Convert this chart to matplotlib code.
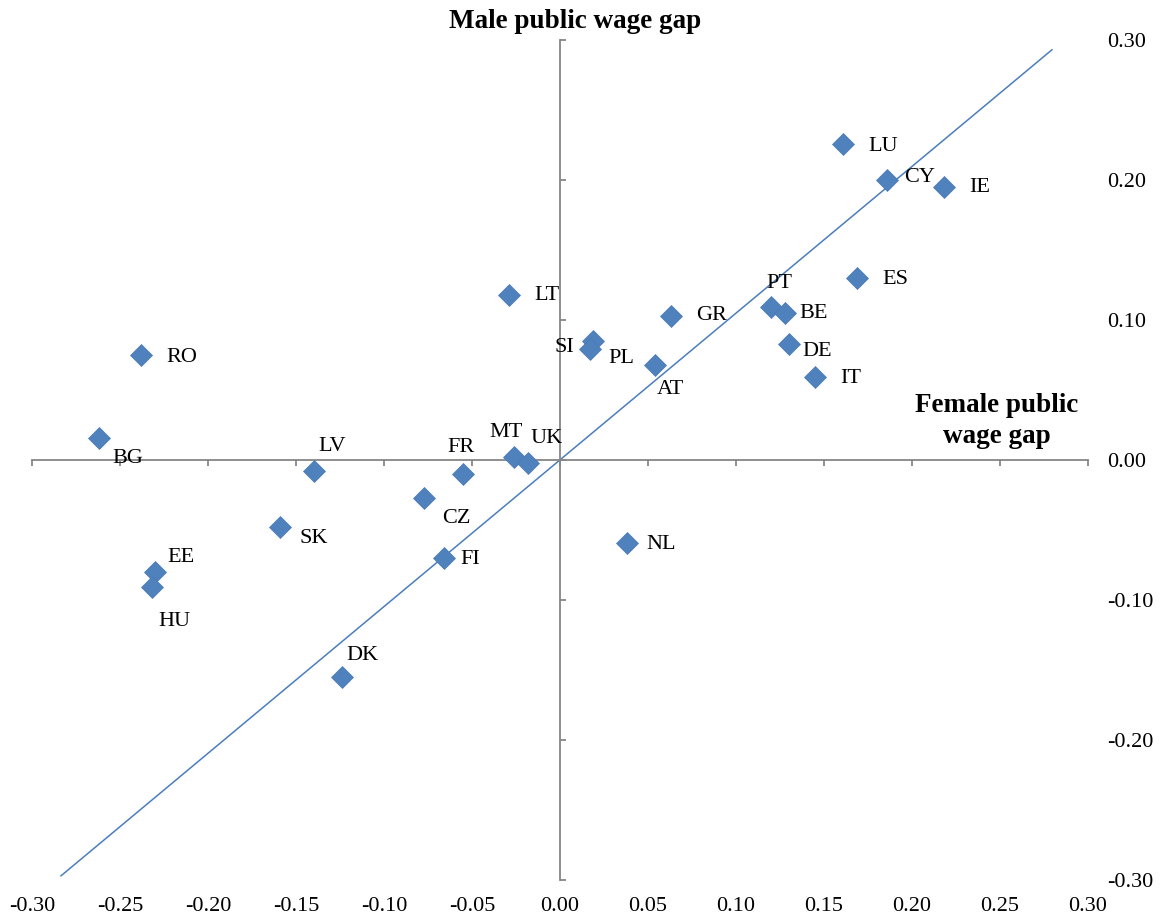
import matplotlib
matplotlib.use('Agg')
import matplotlib.pyplot as plt
from matplotlib.ticker import FormatStrFormatter

plt.rcParams['font.family'] = ['Liberation Serif', 'DejaVu Serif']
plt.rcParams['axes.unicode_minus'] = False

# country codes, female gap (x), male gap (y)
countries = ['LU', 'CY', 'IE', 'ES', 'PT', 'BE', 'DE', 'IT', 'GR', 'AT', 'SI', 'PL', 'LT',
             'RO', 'BG', 'LV', 'FR', 'MT', 'UK', 'CZ', 'SK', 'FI', 'NL', 'EE', 'HU', 'DK']
female_gap = [0.161, 0.186, 0.218, 0.169, 0.120, 0.128, 0.130, 0.145, 0.063, 0.054, 0.019, 0.017, -0.029,
              -0.238, -0.262, -0.140, -0.055, -0.026, -0.018, -0.077, -0.159, -0.066, 0.038, -0.230, -0.232, -0.124]
male_gap = [0.226, 0.200, 0.195, 0.130, 0.109, 0.105, 0.083, 0.059, 0.103, 0.068, 0.085, 0.079, 0.118,
            0.075, 0.016, -0.008, -0.010, 0.002, -0.002, -0.027, -0.048, -0.070, -0.059, -0.080, -0.091, -0.155]

# fitted line end points
line_x = [-0.2835, 0.2795]
line_y = [-0.297, 0.293]

xticks = [-0.30, -0.25, -0.20, -0.15, -0.10, -0.05, 0.00, 0.05, 0.10, 0.15, 0.20, 0.25, 0.30]
yticks = [-0.30, -0.20, -0.10, 0.00, 0.10, 0.20, 0.30]

# label offsets in pixels (dx right, dy down) relative to each point
label_offsets = [(40, 3), (32, -3), (36, 1), (38, 1), (8, -24), (28, 0), (28, 8), (36, 1), (41, 0),
                 (15, 25), (-29, 6), (31, 9), (38, 1), (41, 2), (29, 21), (19, -25), (-2, -27),
                 (-8, -25), (18, -24), (32, 21), (34, 11), (26, 2), (34, 2), (26, -15), (23, 34), (21, -21)]

fig = plt.figure(figsize=(11.6, 9.18), dpi=100)
ax = fig.add_axes([32/1160, 1-880/918, 1056/1160, 840/918])

axis_grey = '#868686'
blue = '#4F81BD'

ax.plot(line_x, line_y, color='#4A7EBB', linewidth=1.1, zorder=2)
ax.plot(female_gap, male_gap, linestyle='none', marker='D', markersize=11,
        markerfacecolor=blue, markeredgecolor='#4A7AB5', markeredgewidth=0.5, zorder=3)

for name, x, y, (dx, dy) in zip(countries, female_gap, male_gap, label_offsets):
    ax.annotate(name, (x, y), xytext=(dx, -dy), textcoords='offset pixels',
                ha='center', va='center', fontsize=16, zorder=4)

ax.set_xlim(-0.30, 0.30)
ax.set_ylim(-0.30, 0.30)

for s in ['top', 'right']:
    ax.spines[s].set_visible(False)
ax.spines['left'].set_position(('data', 0))
ax.spines['bottom'].set_position(('data', 0))
for s in ['left', 'bottom']:
    ax.spines[s].set_color(axis_grey)
    ax.spines[s].set_linewidth(1.3)

ax.set_xticks(xticks)
ax.set_yticks(yticks)
ax.tick_params(axis='x', direction='out', length=4, width=1.3, color=axis_grey, labelbottom=False)
ax.tick_params(axis='y', direction='in', length=4.5, width=1.3, color=axis_grey, labelleft=False)

# tick labels at the outer edges
secx = ax.secondary_xaxis('bottom')
secx.set_xticks(xticks)
secx.xaxis.set_major_formatter(FormatStrFormatter('%.2f'))
secx.spines['bottom'].set_visible(False)
secx.tick_params(length=0, pad=12, labelsize=16)

secy = ax.secondary_yaxis('right')
secy.set_yticks(yticks)
secy.yaxis.set_major_formatter(FormatStrFormatter('%.2f'))
secy.spines['right'].set_visible(False)
secy.tick_params(length=0, pad=13.5, labelsize=16)

fig.text(575/1160, 1-21/918, 'Male public wage gap', ha='center', va='center',
         fontsize=19.5, fontweight='bold')
fig.text(997/1160, 1-421/918, 'Female public\nwage gap', ha='center', va='center',
         fontsize=19.5, fontweight='bold', linespacing=1.35)

fig.savefig('out.png', dpi=100)
